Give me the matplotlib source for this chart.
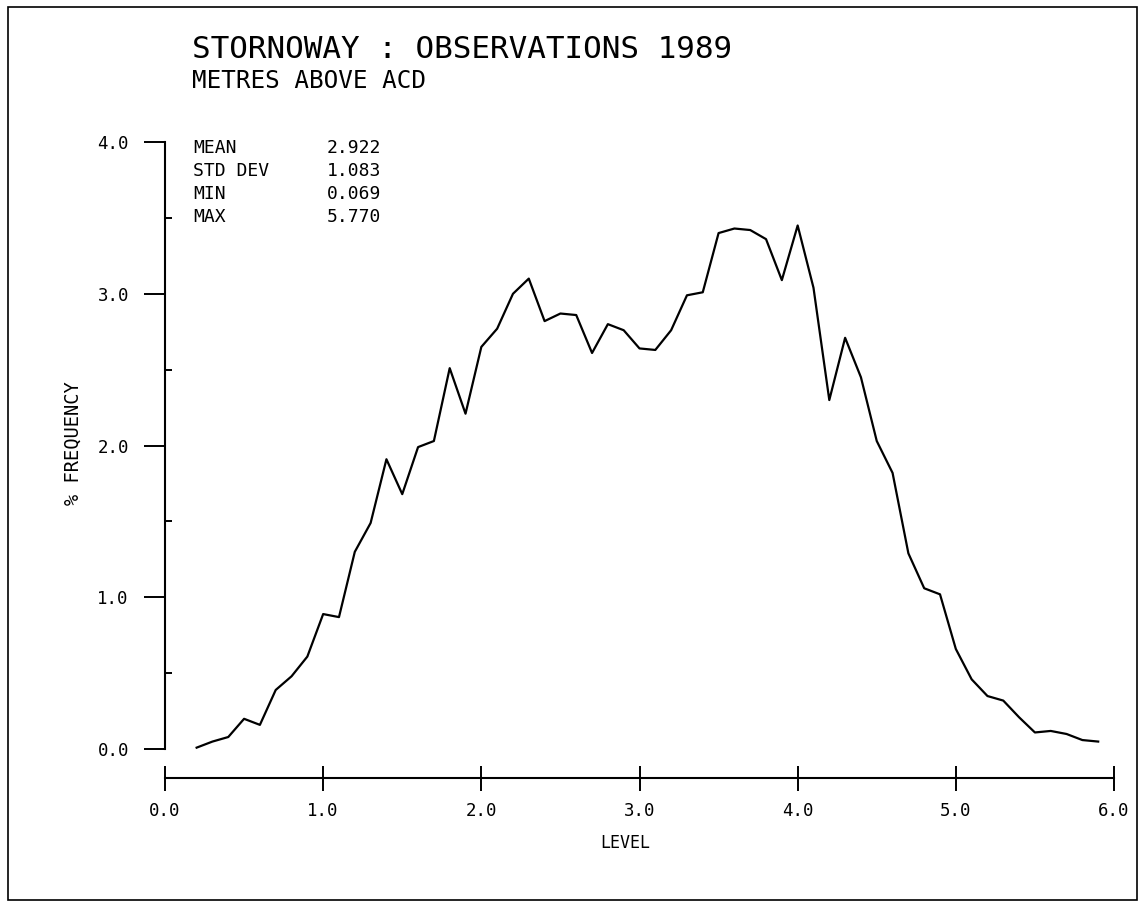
import matplotlib.pyplot as plt
from matplotlib.patches import Rectangle
from matplotlib.ticker import FixedLocator

# levels (metres above ACD) at 0.1 m steps and % frequency
levels = [round(0.2 + 0.1 * i, 1) for i in range(58)]
freq = [0.01, 0.05, 0.08, 0.20, 0.16, 0.39, 0.48, 0.61, 0.89, 0.87,
        1.30, 1.49, 1.91, 1.68, 1.99, 2.03, 2.51, 2.21, 2.65, 2.77,
        3.00, 3.10, 2.82, 2.87, 2.86, 2.61, 2.80, 2.76, 2.64, 2.63,
        2.76, 2.99, 3.01, 3.40, 3.43, 3.42, 3.36, 3.09, 3.45, 3.04,
        2.30, 2.71, 2.45, 2.03, 1.82, 1.29, 1.06, 1.02, 0.66, 0.46,
        0.35, 0.32, 0.21, 0.11, 0.12, 0.10, 0.06, 0.05]

stat_names = ['MEAN', 'STD DEV', 'MIN', 'MAX']
stat_values = ['2.922', '1.083', '0.069', '5.770']

x_ticks = [0, 1, 2, 3, 4, 5, 6]
y_ticks = [0, 1, 2, 3, 4]

FONT = 'DejaVu Sans Mono'
W, H = 1140, 908

fig = plt.figure(figsize=(W / 100, H / 100), dpi=100)

# frame round the whole sheet
fig.patches.append(Rectangle((8 / W, 1 - 900 / H), (1137 - 8) / W, (900 - 7) / H,
                             transform=fig.transFigure, fill=False,
                             edgecolor='black', linewidth=1.2))

ax = fig.add_axes([165 / W, 1 - 778 / H, (1114 - 165) / W, (778 - 142) / H])
ax.plot(levels, freq, color='black', linewidth=1.6)

ax.set_xlim(0, 6)
ax.set_ylim(-0.19, 4.0)

for side in ['top', 'right']:
    ax.spines[side].set_visible(False)
ax.spines['left'].set_bounds(0, 4)
ax.spines['bottom'].set_bounds(0, 6)
for side in ['left', 'bottom']:
    ax.spines[side].set_linewidth(1.5)

ax.set_xticks(x_ticks)
ax.set_xticklabels([f'{v:.1f}' for v in x_ticks], family=FONT, fontsize=12.5)
ax.set_yticks(y_ticks)
ax.set_yticklabels([f'{v:.1f}' for v in y_ticks], family=FONT, fontsize=12.5)
ax.yaxis.set_minor_locator(FixedLocator([0.5, 1.5, 2.5, 3.5]))

ax.tick_params(axis='y', which='major', direction='out', length=15, width=1.4, pad=11)
ax.tick_params(axis='y', which='minor', direction='in', length=5, width=1.4)
ax.tick_params(axis='x', which='major', direction='inout', length=18, width=1.4, pad=8)

ax.set_xlabel('LEVEL', family=FONT, fontsize=12, va='center')
ax.xaxis.set_label_coords((625 - 165) / (1114 - 165), -(843 - 778) / (778 - 142))
ax.set_ylabel('% FREQUENCY', family=FONT, fontsize=13.5, va='center')
ax.yaxis.set_label_coords(-(165 - 73) / (1114 - 165), (778 - 443) / (778 - 142))

# heading
fig.text(192 / W, 1 - 58 / H, 'STORNOWAY : OBSERVATIONS 1989',
         family=FONT, fontsize=22.3, va='baseline')
fig.text(192 / W, 1 - 88 / H, 'METRES ABOVE ACD',
         family=FONT, fontsize=17.5, va='baseline')

# summary statistics
for i, (name, val) in enumerate(zip(stat_names, stat_values)):
    yb = 1 - (153 + 23 * i) / H
    fig.text(193 / W, yb, name, family=FONT, fontsize=13, va='baseline')
    fig.text(381 / W, yb, val, family=FONT, fontsize=13, va='baseline', ha='right')

fig.savefig('out.png', dpi=100)
